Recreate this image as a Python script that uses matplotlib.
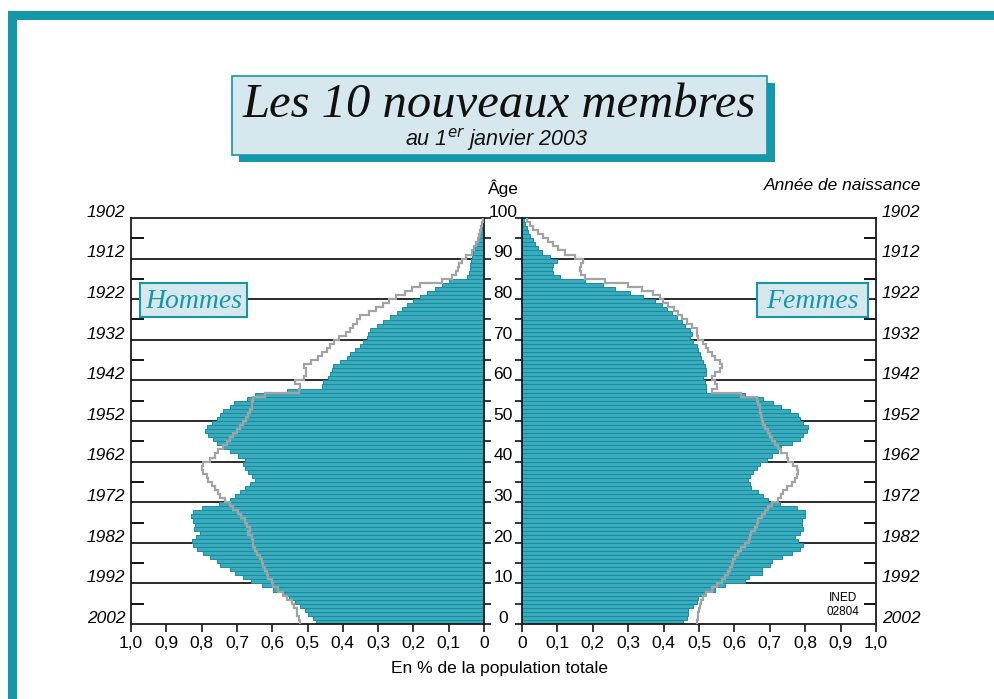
import numpy as np
import matplotlib
matplotlib.use('Agg')
import matplotlib.pyplot as plt
from matplotlib.patches import Rectangle
from matplotlib import transforms

plt.rcParams['mathtext.fontset'] = 'custom'
plt.rcParams['mathtext.rm'] = 'Liberation Sans:italic'

# ages 0..99 (one bar per year of age), values in % of total population
ages = np.arange(0, 100)
hommes = [0.475, 0.485, 0.498, 0.507, 0.521, 0.535, 0.552, 0.568, 0.597, 0.63,
          0.66, 0.682, 0.705, 0.72, 0.748, 0.757, 0.776, 0.795, 0.814, 0.825,
          0.828, 0.815, 0.805, 0.822, 0.818, 0.825, 0.83, 0.825, 0.80, 0.75,
          0.72, 0.705, 0.69, 0.677, 0.663, 0.649, 0.658, 0.668, 0.677, 0.682,
          0.677, 0.697, 0.72, 0.743, 0.757, 0.767, 0.781, 0.79, 0.786, 0.771,
          0.757, 0.748, 0.738, 0.72, 0.708, 0.67, 0.649, 0.559, 0.46, 0.456,
          0.442, 0.436, 0.431, 0.427, 0.408, 0.389, 0.38, 0.365, 0.351, 0.342,
          0.332, 0.328, 0.323, 0.304, 0.285, 0.266, 0.247, 0.233, 0.219, 0.2,
          0.181, 0.162, 0.14, 0.12, 0.10, 0.048, 0.042, 0.04, 0.039, 0.037,
          0.035, 0.031, 0.026, 0.022, 0.019, 0.014, 0.01, 0.007, 0.005, 0.003]
hommes_ref = [0.521, 0.525, 0.53, 0.53, 0.538, 0.545, 0.559, 0.569, 0.583, 0.597,
              0.601, 0.611, 0.616, 0.62, 0.625, 0.63, 0.635, 0.644, 0.649, 0.654,
              0.654, 0.658, 0.668, 0.663, 0.672, 0.677, 0.687, 0.697, 0.711, 0.72,
              0.734, 0.748, 0.753, 0.762, 0.771, 0.781, 0.786, 0.795, 0.80, 0.795,
              0.776, 0.762, 0.753, 0.738, 0.729, 0.72, 0.711, 0.70, 0.69, 0.682,
              0.674, 0.668, 0.663, 0.658, 0.658, 0.655, 0.62, 0.525, 0.52, 0.535,
              0.51, 0.505, 0.505, 0.51, 0.49, 0.47, 0.46, 0.445, 0.435, 0.425,
              0.41, 0.39, 0.38, 0.37, 0.36, 0.35, 0.325, 0.305, 0.285, 0.27,
              0.25, 0.225, 0.205, 0.18, 0.12, 0.09, 0.08, 0.075, 0.07, 0.062,
              0.05, 0.035, 0.028, 0.022, 0.018, 0.014, 0.011, 0.008, 0.006, 0.004]
femmes = [0.455, 0.465, 0.468, 0.47, 0.484, 0.494, 0.498, 0.517, 0.545, 0.574,
          0.63, 0.64, 0.677, 0.677, 0.70, 0.705, 0.734, 0.762, 0.785, 0.794,
          0.78, 0.771, 0.785, 0.794, 0.79, 0.79, 0.80, 0.80, 0.778, 0.729,
          0.695, 0.68, 0.667, 0.648, 0.643, 0.638, 0.643, 0.653, 0.663, 0.672,
          0.691, 0.705, 0.724, 0.733, 0.762, 0.785, 0.795, 0.804, 0.808, 0.795,
          0.785, 0.78, 0.757, 0.733, 0.71, 0.682, 0.63, 0.521, 0.521, 0.517,
          0.512, 0.521, 0.521, 0.517, 0.512, 0.507, 0.503, 0.498, 0.494, 0.484,
          0.475, 0.48, 0.475, 0.46, 0.451, 0.437, 0.423, 0.409, 0.395, 0.376,
          0.343, 0.305, 0.263, 0.23, 0.178, 0.107, 0.088, 0.084, 0.088, 0.098,
          0.079, 0.056, 0.046, 0.037, 0.032, 0.022, 0.018, 0.013, 0.008, 0.006]
femmes_ref = [0.494, 0.496, 0.498, 0.50, 0.503, 0.507, 0.512, 0.519, 0.536, 0.55,
              0.564, 0.574, 0.583, 0.587, 0.592, 0.597, 0.601, 0.611, 0.62, 0.63,
              0.64, 0.643, 0.648, 0.658, 0.663, 0.667, 0.677, 0.686, 0.696, 0.705,
              0.724, 0.733, 0.738, 0.748, 0.762, 0.771, 0.776, 0.78, 0.776, 0.766,
              0.752, 0.748, 0.733, 0.724, 0.714, 0.705, 0.70, 0.696, 0.686, 0.682,
              0.677, 0.675, 0.672, 0.672, 0.667, 0.663, 0.62, 0.536, 0.55, 0.545,
              0.536, 0.545, 0.559, 0.564, 0.559, 0.545, 0.536, 0.526, 0.521, 0.512,
              0.498, 0.494, 0.494, 0.48, 0.465, 0.451, 0.442, 0.428, 0.413, 0.399,
              0.39, 0.371, 0.338, 0.30, 0.234, 0.178, 0.168, 0.164, 0.168, 0.173,
              0.15, 0.121, 0.103, 0.088, 0.074, 0.06, 0.046, 0.032, 0.022, 0.013]

x_ticks = np.arange(0, 1.01, 0.1)
x_labels = ['0'] + [('%.1f' % v).replace('.', ',') for v in x_ticks[1:]]
age_labels = np.arange(0, 101, 10)
annee_obs = 2002

TEAL = '#1597aa'
LIGHT = '#d6e8ee'
BAR = '#3daabb'
BAR_EDGE = '#118fa2'
GREY = '#a3a3a3'
SANS = ['Liberation Sans Narrow', 'Liberation Sans', 'DejaVu Sans']
SERIF = ['Liberation Serif', 'DejaVu Serif']

W, H = 994, 699
def fx(px): return px / W
def fy(py): return 1 - py / H

fig = plt.figure(figsize=(9.94, 6.99), dpi=100)

# outer frame
fig.add_artist(Rectangle((fx(8), fy(20)), 1, 9 / H, transform=fig.transFigure, color=TEAL, lw=0))
fig.add_artist(Rectangle((fx(8), 0), 9 / W, fy(11), transform=fig.transFigure, color=TEAL, lw=0))

# title box with shadow
fig.add_artist(Rectangle((fx(239), fy(162)), (775 - 239) / W, (162 - 83) / H,
                         transform=fig.transFigure, color=TEAL, lw=0))
fig.add_artist(Rectangle((fx(232), fy(155)), (767 - 232) / W, (155 - 76) / H,
                         transform=fig.transFigure, fc=LIGHT, ec=TEAL, lw=1.2))
fig.text(fx(499), fy(117), 'Les 10 nouveaux membres', family=SERIF, style='italic',
         size=35, ha='center', va='baseline', color='#111')
fig.text(fx(497), fy(146), 'au 1$^{er}$ janvier 2003', family=SANS, style='italic',
         size=15.5, ha='center', va='baseline', color='#111')

axL = fig.add_axes([fx(131), fy(624), (484 - 131) / W, (624 - 218) / H])
axR = fig.add_axes([fx(522), fy(624), (876 - 522) / W, (624 - 218) / H])

for ax, vals, ref in [(axL, hommes, hommes_ref), (axR, femmes, femmes_ref)]:
    for a in range(10, 100, 10):
        ax.axhline(a, color='#1a1a1a', lw=1.3, zorder=1)
    ax.barh(ages, vals, height=1, align='edge', color=BAR, edgecolor=BAR_EDGE,
            lw=0.7, zorder=2)
    ax.stairs(ref, np.arange(0, 101), orientation='horizontal', baseline=None,
              color=GREY, lw=1.6, zorder=3)
    ax.set_ylim(0, 100)
    ax.set_xticks(x_ticks)
    ax.set_xticklabels(x_labels, family=SANS, size=12.5)
    ax.tick_params(axis='x', direction='out', length=6, width=1.1, pad=3)
    for s in ax.spines.values():
        s.set_linewidth(1.3)
        s.set_color('#1a1a1a')
    ax.set_yticks([])

axL.set_xlim(1.0, 0)
axR.set_xlim(0, 1.0)

# outer side ticks (inward, every 5 years between decades)
axL.set_yticks(np.arange(5, 100, 10))
axL.tick_params(axis='y', left=True, right=False, direction='in', length=9,
                width=1.3, labelleft=False)
axR.yaxis.tick_right()
axR.set_yticks(np.arange(5, 100, 10))
axR.tick_params(axis='y', left=False, right=True, direction='in', length=9,
                width=1.3, labelright=False)

# central age axis ticks (outward, every 5 years)
secL = axL.secondary_yaxis('right')
secL.set_yticks(np.arange(0, 101, 5))
secL.tick_params(direction='out', length=5, width=1.1, labelright=False)
secL.spines['right'].set_visible(False)
secR = axR.secondary_yaxis('left')
secR.set_yticks(np.arange(0, 101, 5))
secR.tick_params(direction='out', length=5, width=1.1, labelleft=False)
secR.spines['left'].set_visible(False)

# age labels in the centre and birth years on each side
trR = transforms.blended_transform_factory(axR.transAxes, axR.transData)
trL = transforms.blended_transform_factory(axL.transAxes, axL.transData)
for a in age_labels:
    axR.text(-0.054, a + 1.4, str(a), transform=trR, ha='center', va='center',
             family=SANS, size=12.5, clip_on=False)
    axL.text(-0.016, a + 1.4, str(annee_obs - a), transform=trL, ha='right',
             va='center', family=SANS, style='italic', size=12.5, clip_on=False)
    axR.text(1.017, a + 1.4, str(annee_obs - a), transform=trR, ha='left',
             va='center', family=SANS, style='italic', size=12.5, clip_on=False)

fig.text(fx(503), fy(188), 'Âge', family=SANS, size=12.5, ha='center', va='center')
fig.text(fx(921), fy(186), 'Année de naissance', family=SANS, style='italic',
         size=12.5, ha='right', va='center')
fig.text(fx(500), fy(669), 'En % de la population totale', family=SANS, size=12.5,
         ha='center', va='center')

# Hommes / Femmes labels
for x0, x1, txt in [(140, 247, 'Hommes'), (757, 868, 'Femmes')]:
    fig.add_artist(Rectangle((fx(x0), fy(317)), (x1 - x0) / W, 34 / H,
                             transform=fig.transFigure, fc=LIGHT, ec=TEAL, lw=1.5,
                             zorder=5))
    fig.text(fx((x0 + x1) / 2), fy(301), txt, family=SERIF, style='italic', size=20,
             color=TEAL, ha='center', va='center', zorder=6)

fig.text(fx(843), fy(598), 'INED', family=SANS, size=8.5, ha='center', va='center')
fig.text(fx(843), fy(612), '02804', family=SANS, size=8.5, ha='center', va='center')

fig.savefig('out.png', dpi=100)
